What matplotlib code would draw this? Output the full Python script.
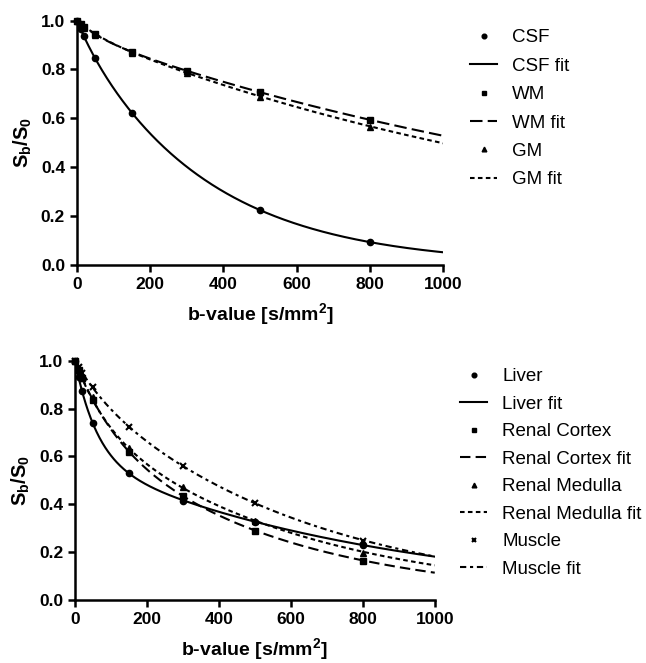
import numpy as np
import matplotlib
matplotlib.use('Agg')
import matplotlib.pyplot as plt

plt.rcParams['font.family'] = ['Liberation Sans', 'DejaVu Sans']
plt.rcParams['mathtext.fontset'] = 'custom'
plt.rcParams['mathtext.bf'] = 'Liberation Sans:bold'

# measured b-values
b_csf = [0, 10, 20, 50, 150, 500, 800]
b_all = [0, 10, 20, 50, 150, 300, 500, 800]

# top panel: brain tissues (signal ratio)
csf = [1.0, 0.965, 0.935, 0.846, 0.621, 0.225, 0.095]
wm = [1.0, 0.985, 0.975, 0.946, 0.873, 0.794, 0.707, 0.594]
gm = [1.0, 0.983, 0.970, 0.940, 0.868, 0.787, 0.689, 0.566]

# bottom panel: body tissues
liver = [1.0, 0.93, 0.872, 0.738, 0.529, 0.415, 0.327, 0.230]
cortex = [1.0, 0.962, 0.928, 0.836, 0.620, 0.436, 0.288, 0.164]
medulla = [1.0, 0.962, 0.926, 0.848, 0.634, 0.474, 0.331, 0.198]
muscle = [1.0, 0.973, 0.949, 0.889, 0.724, 0.560, 0.404, 0.248]

# bi-exponential fit parameters (f, D*, D)
fit_csf = (0.04, 0.020, 0.0029)
fit_wm = (0.055, 0.015, 0.00058)
fit_gm = (0.045, 0.015, 0.00065)
fit_liver = (0.41, 0.0164, 0.00118)
fit_cortex = (0.274, 0.0091, 0.00185)
fit_medulla = (0.245, 0.0114, 0.00165)
fit_muscle = (0.10, 0.012, 0.0016)

b_fit = np.linspace(0, 1000, 500)


def ivim(p):
    f, dstar, d = p
    return f * np.exp(-dstar * b_fit) + (1 - f) * np.exp(-d * b_fit)


fig = plt.figure(figsize=(6.46, 6.63), dpi=100)
ax1 = fig.add_axes([0.119, 0.600, 0.567, 0.369])
ax2 = fig.add_axes([0.116, 0.095, 0.557, 0.361])

ms = 4.5
# top
ax1.plot(b_csf, csf, 'o', color='black', ms=ms, clip_on=False, label='CSF')
ax1.plot(b_fit, ivim(fit_csf), '-', color='black', lw=1.5, label='CSF fit')
ax1.plot(b_all, wm, 's', color='black', ms=ms, clip_on=False, label='WM')
ax1.plot(b_fit, ivim(fit_wm), color='black', lw=1.5, dashes=(6, 2.5), label='WM fit')
ax1.plot(b_all, gm, '^', color='black', ms=ms, clip_on=False, label='GM')
ax1.plot(b_fit, ivim(fit_gm), color='black', lw=1.5, dashes=(2.2, 1.6), label='GM fit')

# bottom
ax2.plot(b_all, liver, 'o', color='black', ms=ms, clip_on=False, label='Liver')
ax2.plot(b_fit, ivim(fit_liver), '-', color='black', lw=1.5, label='Liver fit')
ax2.plot(b_all, cortex, 's', color='black', ms=ms, clip_on=False, label='Renal Cortex')
ax2.plot(b_fit, ivim(fit_cortex), color='black', lw=1.5, dashes=(5, 2.5), label='Renal Cortex fit')
ax2.plot(b_all, medulla, '^', color='black', ms=ms, clip_on=False, label='Renal Medulla')
ax2.plot(b_fit, ivim(fit_medulla), color='black', lw=1.5, dashes=(2.2, 1.6), label='Renal Medulla fit')
ax2.plot(b_all, muscle, 'x', color='black', ms=ms, mew=1.5, clip_on=False, label='Muscle')
ax2.plot(b_fit, ivim(fit_muscle), color='black', lw=1.5, dashes=(3, 1.8, 1.5, 1.8), label='Muscle fit')

for ax in (ax1, ax2):
    ax.set_xlim(0, 1000)
    ax.set_ylim(0, 1.0)
    ax.set_xticks([0, 200, 400, 600, 800, 1000])
    ax.set_yticks([0.0, 0.2, 0.4, 0.6, 0.8, 1.0])
    ax.set_yticklabels(['0.0', '0.2', '0.4', '0.6', '0.8', '1.0'])
    for s in ('top', 'right'):
        ax.spines[s].set_visible(False)
    for s in ('left', 'bottom'):
        ax.spines[s].set_linewidth(1.8)
    ax.tick_params(direction='out', width=1.8, length=5, labelsize=12.5)
    for lab in ax.get_xticklabels() + ax.get_yticklabels():
        lab.set_fontweight('bold')
    ax.set_xlabel('b-value [s/mm$^\\mathbf{2}$]', fontsize=14, fontweight='bold', labelpad=7)
    ax.set_ylabel('S$_\\mathbf{b}$/S$_\\mathbf{0}$', fontsize=14.5, fontweight='bold', labelpad=5)

ax1.legend(loc='upper left', bbox_to_anchor=(1.053, 0.995), frameon=False, fontsize=13.5,
           handlelength=1.45, handletextpad=0.8, labelspacing=0.6, markerscale=0.75,
           borderaxespad=0)
ax2.legend(loc='upper left', bbox_to_anchor=(1.05, 1.0), frameon=False, fontsize=13.5,
           handlelength=1.45, handletextpad=0.8, labelspacing=0.555, markerscale=0.75,
           borderaxespad=0)

fig.savefig('out.png', dpi=100)
